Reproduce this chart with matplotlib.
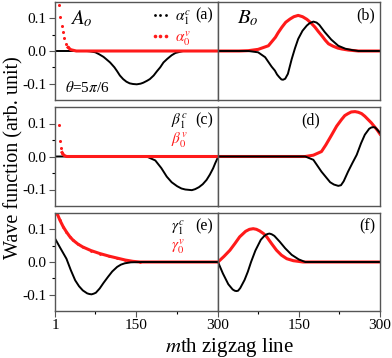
import matplotlib

matplotlib.use("Agg")
import matplotlib.pyplot as plt  # noqa: E402
from matplotlib.lines import Line2D  # noqa: E402

plt.rcParams["font.family"] = ["Liberation Serif", "DejaVu Serif"]
plt.rcParams["mathtext.fontset"] = "stix"

RED = "#ff1a1a"

# panel (a): A_o sublattice
a_blk_m = [1, 30, 59, 65, 75, 82, 90, 95, 102, 110, 115, 120, 126, 132, 138, 144, 151,
           158, 163, 170, 175, 182, 188, 194, 200, 207, 215, 222, 236, 260, 300]
a_blk_v = [0, 0, 0, -0.001, -0.004, -0.01, -0.018, -0.025, -0.035, -0.05, -0.062, -0.075,
           -0.086, -0.094, -0.099, -0.101, -0.102, -0.100, -0.097, -0.091, -0.086, -0.075,
           -0.062, -0.05, -0.035, -0.024, -0.013, -0.006, 0, 0, 0]
a_red_m = [9, 11, 13, 15, 17, 21, 25, 30, 40, 300]
a_red_v = [0.142, 0.104, 0.078, 0.057, 0.039, 0.022, 0.011, 0.004, 0, 0]

# panel (b): B_o sublattice
b_red_m = [1, 40, 57, 75, 94, 100, 107, 112, 119, 126, 134, 141, 149, 157, 165, 172, 180,
           186, 193, 199, 205, 213, 222, 230, 241, 260, 300]
b_red_v = [0, 0, 0.001, 0.005, 0.016, 0.028, 0.042, 0.056, 0.073, 0.088, 0.098, 0.105,
           0.109, 0.105, 0.097, 0.087, 0.073, 0.06, 0.046, 0.033, 0.022, 0.015, 0.009,
           0.006, 0.003, 0, 0]
b_blk_m = [1, 40, 57, 75, 88, 100, 106, 110, 114, 118, 121, 125, 130, 137, 143, 149, 157,
           165, 170, 177, 183, 188, 198, 210, 223, 236, 248, 260, 300]
b_blk_v = [0, 0, 0, -0.004, -0.019, -0.048, -0.06, -0.072, -0.08, -0.087, -0.088, -0.085,
           -0.07, -0.025, 0.008, 0.037, 0.062, 0.078, 0.085, 0.09, 0.087, 0.08, 0.058,
           0.035, 0.016, 0.007, 0.003, 0, 0]

# panel (c)
c_red_m = [9, 10, 12, 14, 17, 22, 300]
c_red_v = [0.094, 0.048, 0.026, 0.012, 0.004, 0, 0]
c_blk_m = [1, 100, 169, 185, 196, 206, 215, 225, 233, 240, 246, 252, 258, 265, 272, 279,
           285, 291, 295, 300]
c_blk_v = [0, 0, 0, -0.012, -0.035, -0.061, -0.078, -0.09, -0.097, -0.1, -0.101, -0.102,
           -0.099, -0.093, -0.084, -0.071, -0.055, -0.036, -0.02, -0.002]

# panel (d)
d_red_m = [1, 100, 162, 177, 192, 200, 211, 220, 229, 235, 241, 247, 254, 260, 266, 272,
           278, 284, 290, 295, 300]
d_red_v = [0, 0, 0, 0.004, 0.015, 0.035, 0.066, 0.092, 0.112, 0.124, 0.13, 0.135, 0.136,
           0.134, 0.13, 0.122, 0.112, 0.102, 0.09, 0.08, 0.068]
d_blk_m = [1, 100, 162, 177, 192, 208, 215, 223, 228, 233, 241, 249, 257, 265, 272, 280,
           284, 288, 291, 294, 300]
d_blk_v = [0, 0, 0, -0.01, -0.046, -0.078, -0.085, -0.089, -0.087, -0.075, -0.046, -0.02,
           0.005, 0.04, 0.066, 0.084, 0.088, 0.089, 0.088, 0.083, 0.072]

# panel (e)
e_red_m = [1, 5, 10, 16, 22, 28, 34, 43, 52, 67, 83, 100, 115, 130, 144, 157, 300]
e_red_v = [0.16, 0.148, 0.128, 0.108, 0.092, 0.078, 0.067, 0.055, 0.046, 0.035, 0.026,
           0.018, 0.012, 0.006, 0.002, 0, 0]
e_blk_m = [1, 10, 22, 30, 38, 45, 52, 60, 64, 68, 72, 76, 83, 90, 98, 106, 115, 122, 129,
           140, 160, 300]
e_blk_v = [0.072, 0.045, 0.010, -0.025, -0.056, -0.074, -0.087, -0.096, -0.098, -0.099,
           -0.097, -0.094, -0.081, -0.064, -0.046, -0.029, -0.015, -0.008, -0.004, -0.001,
           0, 0]

# panel (f)
f_red_m = [1, 12, 23, 32, 41, 52, 59, 66, 72, 78, 85, 91, 100, 109, 118, 128, 140, 158, 300]
f_red_v = [0, 0.017, 0.036, 0.056, 0.077, 0.094, 0.1, 0.102, 0.1, 0.095, 0.087, 0.077,
           0.056, 0.036, 0.021, 0.010, 0.004, 0, 0]
f_blk_m = [1, 10, 20, 28, 32, 35, 38, 42, 50, 56, 62, 70, 80, 86, 90, 93, 96, 100, 105,
           115, 125, 137, 150, 162, 300]
f_blk_v = [0, -0.035, -0.068, -0.084, -0.088, -0.089, -0.088, -0.08, -0.055, -0.03, 0.0,
           0.035, 0.068, 0.079, 0.084, 0.086, 0.087, 0.085, 0.08, 0.062, 0.042, 0.022,
           0.008, 0, 0]

panel_tags = ["(a)", "(b)", "(c)", "(d)", "(e)", "(f)"]
left_xticks = [1, 150, 300]
right_xticks = [150, 300]
right_xticklabels = ["150", "300"]

fig = plt.figure(figsize=(3.92, 3.58), dpi=100)
col_x = [55 / 392, 218 / 392]
col_w = [163 / 392, 162 / 392]
row_top = [2, 107, 213]
row_h = [98, 99, 98]

axes = []
for r in range(3):
    row = []
    for c in range(2):
        bottom = 1 - (row_top[r] + row_h[r]) / 358
        ax = fig.add_axes([col_x[c], bottom, col_w[c], row_h[r] / 358])
        ax.set_xlim(1, 300)
        ax.set_ylim(-0.15, 0.15)
        for sp in ax.spines.values():
            sp.set_color("#555555")
            sp.set_linewidth(1.0)
        ax.tick_params(colors="#555555", labelcolor="black", labelsize=11,
                       direction="out", length=4, width=0.8, pad=2)
        ax.tick_params(which="minor", direction="out", length=2.5, width=0.8)
        ax.set_yticks([-0.1, 0.0, 0.1])
        ax.set_yticks([-0.05, 0.05], minor=True)
        if c == 0:
            ax.set_yticklabels(["-0.1", "0.0", "0.1"])
            ax.set_xticks(left_xticks)
            ax.set_xticks([75, 225], minor=True)
        else:
            ax.tick_params(axis="y", which="both", left=False, labelleft=False)
            ax.set_xticks(right_xticks)
            ax.set_xticks([75, 225], minor=True)
            ax.set_xticklabels(right_xticklabels)
        if r < 2:
            ax.tick_params(axis="x", which="both", bottom=False, labelbottom=False)
        row.append(ax)
    axes.append(row)

ax_a, ax_b = axes[0]
ax_c, ax_d = axes[1]
ax_e, ax_f = axes[2]

lw_red = 2.2
lw_blk = 1.4


def red_dots_then_line(ax, m, v, cut=0.006):
    # steep start shows as separate dots, flat tail as a thick line
    dots_m = [x for x, y in zip(m, v) if y > cut]
    dots_v = [y for y in v if y > cut]
    tail_m = m[len(dots_m) - 1:]
    tail_v = v[len(dots_v) - 1:]
    ax.plot(dots_m, dots_v, ls="none", marker="o", ms=2.2, color=RED, mec="none")
    ax.plot(tail_m, tail_v, color=RED, lw=lw_red)


# (a)
ax_a.plot(a_blk_m, a_blk_v, color="black", lw=lw_blk)
red_dots_then_line(ax_a, a_red_m, a_red_v)
# (b)
ax_b.plot(b_red_m, b_red_v, color=RED, lw=lw_red)
ax_b.plot(b_blk_m, b_blk_v, color="black", lw=lw_blk)
# (c)
ax_c.plot(c_blk_m, c_blk_v, color="black", lw=lw_blk)
red_dots_then_line(ax_c, c_red_m, c_red_v)
# (d)
ax_d.plot(d_red_m, d_red_v, color=RED, lw=lw_red)
ax_d.plot(d_blk_m, d_blk_v, color="black", lw=lw_blk)
# (e)
ax_e.plot(e_red_m, e_red_v, color=RED, lw=lw_red, marker="o", ms=2.0, mec="none")
ax_e.plot(e_blk_m, e_blk_v, color="black", lw=lw_blk)
# (f)
ax_f.plot(f_red_m, f_red_v, color=RED, lw=lw_red)
ax_f.plot(f_blk_m, f_blk_v, color="black", lw=lw_blk)

for ax, tag in zip([ax_a, ax_b, ax_c, ax_d, ax_e, ax_f], panel_tags):
    if tag == "(d)":
        ax.text(0.57, 0.86, tag, transform=ax.transAxes, ha="center", va="center", fontsize=11.5)
    else:
        ax.text(0.97, 0.86, tag, transform=ax.transAxes, ha="right", va="center", fontsize=11.5)

ax_a.text(0.09, 0.83, "$A_o$", transform=ax_a.transAxes, ha="left", va="center", fontsize=15)
ax_b.text(0.12, 0.83, "$B_o$", transform=ax_b.transAxes, ha="left", va="center", fontsize=15)
ax_a.text(0.06, 0.13, r"$\theta$=5$\pi$/6", transform=ax_a.transAxes, ha="left",
          va="center", fontsize=11)

handles = [Line2D([], [], ls="none", marker="o", ms=2.0, color="black", mec="none"),
           Line2D([], [], ls="none", marker="o", ms=2.6, color=RED, mec="none")]
leg = ax_a.legend(handles, [r"$\alpha_1^c$", r"$\alpha_0^v$"], loc="upper left",
                  bbox_to_anchor=(0.53, 1.03), frameon=False, numpoints=3,
                  handlelength=1.3, handletextpad=0.3, labelspacing=0.1, fontsize=11,
                  borderaxespad=0.2)
leg.get_texts()[1].set_color(RED)

for ax, sym in [(ax_c, r"\beta"), (ax_e, r"\gamma")]:
    ax.text(0.71, 0.85, f"${sym}_1^c$", transform=ax.transAxes, ha="left", va="center", fontsize=11)
    ax.text(0.71, 0.66, f"${sym}_0^v$", transform=ax.transAxes, ha="left", va="center",
            fontsize=11, color=RED)

fig.text(0.035, 0.56, "Wave function (arb. unit)", rotation=90, ha="center", va="center",
         fontsize=14.5)
fig.text(0.585, 0.03, "$m$th zigzag line", ha="center", va="center", fontsize=15)

fig.savefig("out.png", dpi=100)
